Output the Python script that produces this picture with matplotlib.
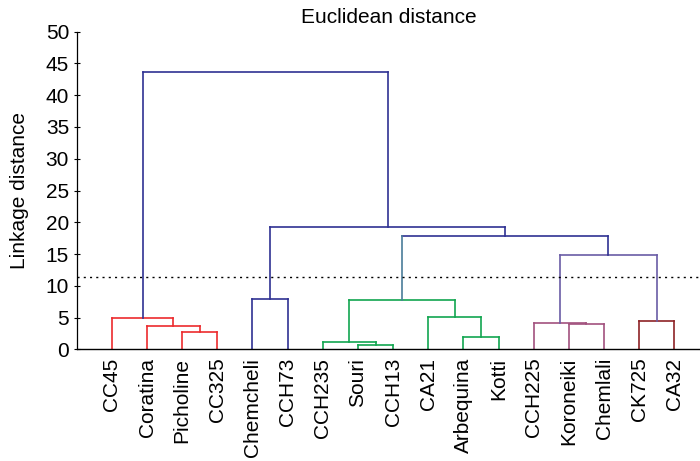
import matplotlib
matplotlib.use('Agg')
import matplotlib.pyplot as plt

plt.rcParams['font.family'] = ['Liberation Sans', 'DejaVu Sans']

leaves = ['CC45', 'Coratina', 'Picholine', 'CC325', 'Chemcheli', 'CCH73',
          'CCH235', 'Souri', 'CCH13', 'CA21', 'Arbequina', 'Kotti',
          'CCH225', 'Koroneiki', 'Chemlali', 'CK725', 'CA32']

# merges: (left node, right node, height); new nodes numbered from len(leaves)
merge_left = [2, 1, 0, 4, 7, 6, 10, 9, 22, 13, 12, 15, 27, 25, 20, 19]
merge_right = [3, 17, 18, 5, 8, 21, 11, 23, 24, 14, 26, 16, 28, 29, 30, 31]
merge_height = [2.67, 3.67, 4.88, 7.97, 0.68, 1.2, 1.94, 5.14, 7.8,
                4.04, 4.15, 4.5, 14.8, 17.9, 19.2, 43.7]
cut_height = 11.35

red = '#ec2b2e'
navy = '#2f3192'
green = '#12a650'
mauve = '#a2527e'
darkred = '#8e2226'
violet = '#6a5ca6'
teal = '#4a7d99'
merge_color = [red, red, red, navy, green, green, green, green, green,
               mauve, mauve, darkred, violet, navy, navy, navy]
leg_override = {(13, 'left'): teal}

fig = plt.figure(figsize=(7, 4.61), dpi=100)
ax = fig.add_axes([0.1096, 0.2423, 0.8904, 0.6889])

xpos = {i: i + 1 for i in range(len(leaves))}
ypos = {i: 0.0 for i in range(len(leaves))}
n = len(leaves)
for k, (a, b, h) in enumerate(zip(merge_left, merge_right, merge_height)):
    c = merge_color[k]
    xa, xb = xpos[a], xpos[b]
    ax.plot([xa, xb], [h, h], color=c, lw=1.2, solid_capstyle='projecting')
    ax.plot([xa, xa], [ypos[a], h], color=leg_override.get((k, 'left'), c), lw=1.2)
    ax.plot([xb, xb], [ypos[b], h], color=leg_override.get((k, 'right'), c), lw=1.2)
    xpos[n + k] = (xa + xb) / 2
    ypos[n + k] = h

ax.axhline(cut_height, color='black', lw=1.0, linestyle=(0, (1.5, 3)))

ax.set_xlim(0, 17.73)
ax.set_ylim(0, 50)
ax.set_yticks(range(0, 51, 5))
ax.set_xticks(range(1, n + 1))
ax.set_xticklabels(leaves, rotation=90, fontsize=15)
ax.tick_params(axis='x', length=0, pad=6)
ax.tick_params(axis='y', direction='inout', length=5, width=0.8, labelsize=15, pad=3)
for s in ['top', 'right']:
    ax.spines[s].set_visible(False)
ax.spines['left'].set_linewidth(0.9)
ax.spines['bottom'].set_linewidth(1.0)

ax.set_title('Euclidean distance', fontsize=15, pad=6)
ax.set_ylabel('Linkage distance', fontsize=15, labelpad=12)

fig.savefig('out.png', dpi=100)
